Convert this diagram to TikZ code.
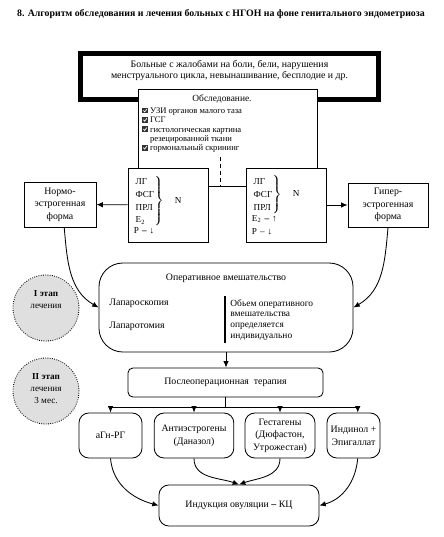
\documentclass[tikz,border=0pt]{standalone}
\usepackage{fontspec}
\setmainfont{Liberation Serif}
\usepackage{amsmath}
\usepackage{tikz}
\usetikzlibrary{arrows.meta}

\newcommand{\chkbox}{\tikz[baseline=0pt]{\fill[black!80] (0pt,0pt) rectangle (4pt,4pt); \draw[white,line width=0.5pt] (0.8pt,2.1pt) -- (1.7pt,1.1pt) -- (3.3pt,3.2pt);}}
\newcommand{\hormset}[1]{$\left.\begin{tabular}{@{}l@{}}#1\end{tabular}\right\}$}

\begin{document}
\begin{tikzpicture}[x=0.025cm, y=-0.025cm, >={Latex[length=4.5pt,width=3.8pt]}, semithick,
	box/.style={draw, fill=white, align=center, inner sep=2pt, font=\fontsize{7}{9}\selectfont},
	roundbox/.style={box, rounded corners=7pt},
	stagecircle/.style={circle, draw, densely dotted, fill=gray!25, minimum size=1.65cm},
	txt/.style={inner sep=0pt, align=left, font=\fontsize{7}{8.4}\selectfont}]
	\useasboundingbox (0,0) rectangle (444,537);
	\node[txt, font=\bfseries\fontsize{7}{8.4}\selectfont] (title) at (221,14) {8. Алгоритм обследования и лечения больных с НГОН на фоне генитального эндометриоза};

	% жалобы и обследование
	\node[draw, line width=3.5pt, minimum width=7.45cm, minimum height=1.16cm] (complaints) at (229.5,76.25) {};
	\node[txt, align=center, font=\fontsize{7}{7.8}\selectfont] (complaintstext) at (229.5,70.5) {Больные с жалобами на боли, бели, нарушения\\менструального цикла, невынашивание, бесплодие и др.};
	\fill[white] (138,89) rectangle (317,168);
	\draw (138,168) |- (317,89) -- (317,168);
	\node[txt, font=\fontsize{6.7}{7.5}\selectfont] (examhead) at (222,99) {Обследование.};
	\node[txt, anchor=north west, font=\fontsize{6.1}{6.6}\selectfont] (examlist) at (142,107.5) {\chkbox\ УЗИ органов малого таза\\\chkbox\ ГСГ\\\chkbox\ гистологическая картина\\\phantom{\chkbox\ }резецированной ткани\\\chkbox\ гормональный скрининг};

	% гормоны
	\node[box, minimum width=2cm, minimum height=1.85cm, text width=1.7cm, align=left, font=\fontsize{6.5}{9}\selectfont] (hormL) at (168,205) {\hormset{ЛГ\\ФСГ\\ПРЛ\\E\textsubscript{2}}\hspace{8pt}N\\Р \textbf{–} \textbf{↓}};
	\node[box, minimum width=2cm, minimum height=1.85cm, text width=1.7cm, align=left, font=\fontsize{6.5}{9}\selectfont] (hormR) at (286,205) {\hormset{ЛГ\\ФСГ\\ПРЛ}\hspace{8pt}N\\E\textsubscript{2} \textbf{–} \textbf{↑}\\Р – \textbf{↓}};
	\draw ([yshift=13.5pt]hormL.east) -- ([yshift=13.5pt]hormR.west);
	\coordinate (examfoot) at (220,157);
	\coordinate (link) at (220,186);
	\draw[thin, densely dashed] (examfoot) -- (link);

	\node[box, minimum width=1.8cm, minimum height=1.125cm] (normo) at (60,204.5) {Нормо-\\эстрогенная\\форма};
	\node[box, minimum width=2cm, minimum height=1.1cm] (hyper) at (388,205) {Гипер-\\эстрогенная\\форма};
	\draw[->] (hormL) -- (normo);
	\draw[->] (hormR) -- (hyper);

	% I этап
	\node[box, rounded corners=17pt, minimum width=6.35cm, minimum height=2.225cm] (oper) at (226,307.5) {};
	\node[txt] (opertitle) at (226,278) {Оперативное вмешательство};
	\node[txt, anchor=west] (lapscope) at (109,303) {Лапароскопия};
	\node[txt, anchor=west] (laptomy) at (109,326) {Лапаротомия};
	\draw[line width=2pt] (225,296) -- (225,343);
	\node[txt, anchor=north west, font=\fontsize{6.7}{7.7}\selectfont] (volume) at (230,299) {Обьем оперативного\\вмешательства\\определяется\\индивидуально};
	\draw[->] ([xshift=3pt]normo.south) to[out=-85, in=150] (oper.west);
	\draw[->] (hyper.south) to[out=-95, in=30] (oper.east);

	\node[stagecircle] (stage1) at (46,308) {};
	\node[txt, align=center, font=\fontsize{6.5}{8.5}\selectfont] (stage1text) at (46,300) {\textbf{I этап}\\лечения};
	\node[stagecircle] (stage2) at (46,391) {};
	\node[txt, align=center, font=\fontsize{6.5}{8.5}\selectfont] (stage2text) at (46,389) {\textbf{II этап}\\лечения\\3 мес.};

	% II этап
	\node[box, rounded corners=3.5pt, minimum width=4.875cm, minimum height=0.725cm] (postop) at (225.5,382.5) {Послеоперационная\ \ терапия};
	\draw[->] (oper.south) -- (oper.south |- postop.north);
	\coordinate (split) at (225.5,407);
	\draw (postop) -- (split);

	\node[roundbox, minimum width=1.575cm, minimum height=1.125cm] (agn) at (110.5,435.5) {аГн\textbf{-}РГ};
	\node[roundbox, minimum width=1.99cm, minimum height=1.125cm] (anti) at (194,435.5) {Антиэстрогены\\(Даназол)};
	\node[roundbox, minimum width=1.75cm, minimum height=1.125cm] (gest) at (280,435.5) {Гестагены\\(Дюфастон,\\Утрожестан)};
	\node[roundbox, minimum width=1.325cm, minimum height=1.125cm] (indi) at (353.5,435.5) {Индинол +\\Эпигаллат};
	\draw[->] (split) -| (agn);
	\draw[->] (split) -| (anti);
	\draw[->] (split) -| (gest);
	\draw[->] (split) -| ([xshift=3pt]indi.north);

	\node[roundbox, minimum width=4cm, minimum height=1.025cm] (induct) at (239,505.5) {Индукция овуляции \textbf{–} КЦ};
	\draw[->] (agn.south) to[out=-85, in=165] (induct.west);
	\draw[->] ([xshift=3pt]indi.south) to[out=-95, in=15] (induct.east);
	\draw[->] (anti.south) to[out=-90, in=160] (induct.north);
	\draw[->] (gest.south) to[out=-90, in=20] (induct.north);
\end{tikzpicture}
\end{document}
